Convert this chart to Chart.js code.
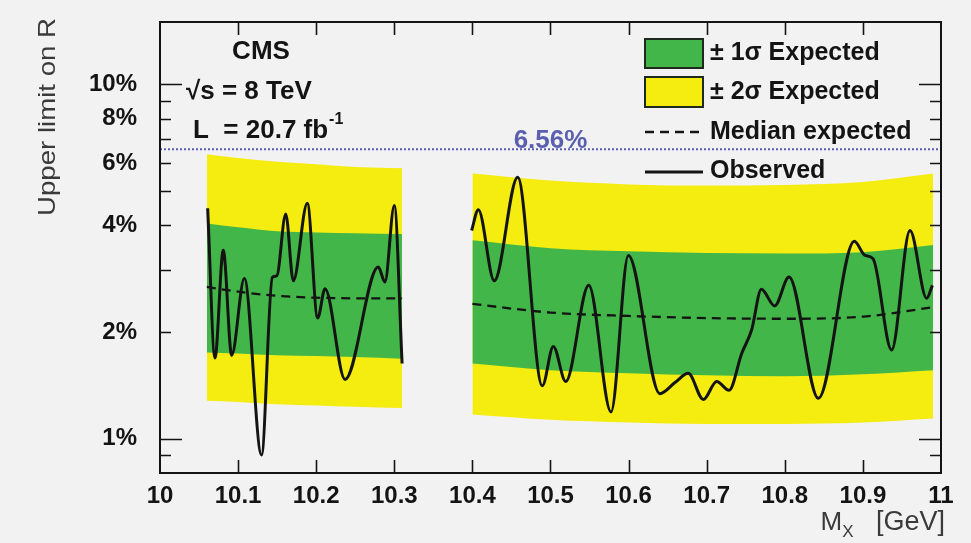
<!DOCTYPE html>
<html>
<head>
<meta charset="utf-8">
<script src="https://cdn.jsdelivr.net/npm/chart.js@4/dist/chart.umd.min.js"></script>
<style>
  html, body { margin: 0; padding: 0; background: #f2f2f2; }
  #wrap { width: 971px; height: 543px; }
</style>
</head>
<body>
<div id="wrap"><canvas id="c" width="971" height="543"></canvas></div>
<script>
// Expected-limit bands (values in %), low-mass window
const bandLeftX     = [10.06, 10.10, 10.15, 10.20, 10.25, 10.31];
const yellowHiLeft  = [6.35, 6.20, 6.05, 5.95, 5.85, 5.80];
const yellowLoLeft  = [1.28, 1.27, 1.25, 1.24, 1.23, 1.22];
const greenHiLeft   = [4.05, 3.95, 3.85, 3.82, 3.80, 3.78];
const greenLoLeft   = [1.75, 1.74, 1.72, 1.71, 1.70, 1.68];
const medianLeft    = [2.68, 2.60, 2.53, 2.50, 2.49, 2.49];

// Expected-limit bands (values in %), high-mass window
const bandRightX    = [10.40, 10.50, 10.60, 10.70, 10.80, 10.90, 10.99];
const yellowHiRight = [5.60, 5.35, 5.22, 5.18, 5.20, 5.30, 5.60];
const yellowLoRight = [1.17, 1.13, 1.11, 1.10, 1.10, 1.11, 1.14];
const greenHiRight  = [3.63, 3.45, 3.38, 3.34, 3.33, 3.36, 3.52];
const greenLoRight  = [1.63, 1.56, 1.53, 1.51, 1.50, 1.52, 1.56];
const medianRight   = [2.40, 2.27, 2.22, 2.19, 2.18, 2.21, 2.35];

// Observed upper limit (%)
const observedLeftX = [10.061, 10.0704, 10.081, 10.0918, 10.108, 10.130, 10.1438, 10.1495,
                       10.161, 10.1707, 10.1886, 10.2019, 10.2113, 10.2369, 10.2795, 10.288, 10.300, 10.310];
const observedLeftY = [4.47, 1.69, 3.40, 1.72, 2.83, 0.90, 2.85, 2.88,
                       4.31, 2.79, 4.62, 2.19, 2.65, 1.47, 3.05, 2.77, 4.55, 1.63];
const observedRightX = [10.399, 10.4076, 10.428, 10.458, 10.4895, 10.5036, 10.5195, 10.549, 10.5775,
                        10.5997, 10.640, 10.6594, 10.6764, 10.6957, 10.7128, 10.7286, 10.7448, 10.7576,
                        10.770, 10.787, 10.8054, 10.843, 10.889, 10.9027, 10.913, 10.9368, 10.9603,
                        10.9817, 10.989];
const observedRightY = [3.87, 4.43, 2.79, 5.47, 1.41, 1.82, 1.45, 2.71, 1.19,
                        3.29, 1.34, 1.44, 1.53, 1.29, 1.45, 1.37, 1.74, 2.03,
                        2.64, 2.37, 2.86, 1.30, 3.61, 3.29, 3.22, 1.78, 3.87,
                        2.49, 2.71];

// Combined limit line
const limitValue = 6.56;

// Axes
const xRange = [10, 11];
const yRange = [0.8, 15];
const xTickStep = 0.1;
const yTickValues = [1, 2, 4, 6, 8, 10];
const yMinorTicks = [0.9, 1, 2, 3, 4, 5, 6, 7, 8, 9, 10];

const FONT = "'Liberation Sans', Arial, Helvetica, sans-serif";
const GREEN = '#43b649';
const YELLOW = '#f5ec10';
const INK = '#141414';
const LIMIT_BLUE = '#5b5fb0';

const pts = (xs, ys) => xs.map((x, i) => ({ x, y: ys[i] }));

function band(xs, ys, color, fill, order) {
  return {
    data: pts(xs, ys), fill, order,
    backgroundColor: color, borderColor: 'transparent', borderWidth: 0,
    pointRadius: 0, tension: 0.4, cubicInterpolationMode: 'monotone'
  };
}
function curve(xs, ys, opts) {
  return Object.assign({
    data: pts(xs, ys), fill: false, pointRadius: 0,
    borderColor: INK, tension: 0.4, cubicInterpolationMode: 'monotone'
  }, opts);
}

const datasets = [
  band(bandLeftX,  yellowHiLeft,  YELLOW, '+1', 6),
  band(bandLeftX,  yellowLoLeft,  YELLOW, false, 6),
  band(bandRightX, yellowHiRight, YELLOW, '+1', 6),
  band(bandRightX, yellowLoRight, YELLOW, false, 6),
  band(bandLeftX,  greenHiLeft,   GREEN,  '+1', 5),
  band(bandLeftX,  greenLoLeft,   GREEN,  false, 5),
  band(bandRightX, greenHiRight,  GREEN,  '+1', 5),
  band(bandRightX, greenLoRight,  GREEN,  false, 5),
  curve(xRange, [limitValue, limitValue], { borderColor: LIMIT_BLUE, borderWidth: 2, borderDash: [2, 2], tension: 0, order: 4 }),
  curve(bandLeftX,  medianLeft,  { borderWidth: 2.3, borderDash: [9, 6], order: 3 }),
  curve(bandRightX, medianRight, { borderWidth: 2.3, borderDash: [9, 6], order: 3 }),
  curve(observedLeftX,  observedLeftY,  { borderWidth: 3, order: 1 }),
  curve(observedRightX, observedRightY, { borderWidth: 3, order: 1 })
];

// Page background
const backdrop = {
  id: 'backdrop',
  beforeDraw(chart) {
    const ctx = chart.ctx;
    ctx.save();
    ctx.fillStyle = '#f2f2f2';
    ctx.fillRect(0, 0, chart.width, chart.height);
    ctx.restore();
  }
};

// Frame, inward ticks, annotations and legend
const decorations = {
  id: 'decorations',
  afterDatasetsDraw(chart) {
    const { ctx, chartArea: a, scales: { x, y } } = chart;
    ctx.save();

    // frame
    ctx.strokeStyle = INK;
    ctx.lineWidth = 2;
    ctx.strokeRect(a.left, a.top, a.right - a.left, a.bottom - a.top);

    // x ticks (bottom and top, pointing inward)
    ctx.lineWidth = 1.6;
    ctx.beginPath();
    for (let v = xRange[0] + xTickStep; v < xRange[1] - 1e-9; v += xTickStep) {
      const px = Math.round(x.getPixelForValue(v)) + 0.5;
      ctx.moveTo(px, a.bottom); ctx.lineTo(px, a.bottom - 13);
      ctx.moveTo(px, a.top);    ctx.lineTo(px, a.top + 13);
    }
    // y ticks (left and right, pointing inward)
    yMinorTicks.forEach(v => {
      const py = Math.round(y.getPixelForValue(v)) + 0.5;
      const len = (v === 1 || v === 10) ? 22 : 11;
      ctx.moveTo(a.left, py);  ctx.lineTo(a.left + len, py);
      ctx.moveTo(a.right, py); ctx.lineTo(a.right - len, py);
    });
    ctx.stroke();

    // limit label
    ctx.fillStyle = LIMIT_BLUE;
    ctx.font = `bold 26px ${FONT}`;
    ctx.textAlign = 'center';
    ctx.textBaseline = 'alphabetic';
    ctx.fillText(limitValue.toFixed(2) + '%', x.getPixelForValue(10.5), y.getPixelForValue(limitValue) - 1);

    // experiment labels
    ctx.fillStyle = INK;
    ctx.textBaseline = 'middle';
    ctx.textAlign = 'center';
    ctx.fillText('CMS', 261, 52);
    ctx.textAlign = 'left';
    ctx.fillText('\u221As = 8 TeV', 186, 92);
    ctx.fillText('L  = 20.7 fb', 193, 131);
    const lw = ctx.measureText('L  = 20.7 fb').width;
    ctx.font = `bold 16px ${FONT}`;
    ctx.fillText('-1', 193 + lw + 1, 120);

    // legend
    const lx0 = 645, lx1 = 703;
    ctx.lineWidth = 2;
    ctx.strokeStyle = '#1e2a1e';
    ctx.fillStyle = GREEN;
    ctx.fillRect(lx0, 39, lx1 - lx0, 29);
    ctx.strokeRect(lx0, 39, lx1 - lx0, 29);
    ctx.fillStyle = YELLOW;
    ctx.fillRect(lx0, 77, lx1 - lx0, 30);
    ctx.strokeRect(lx0, 77, lx1 - lx0, 30);
    ctx.strokeStyle = INK;
    ctx.lineWidth = 2.3;
    ctx.setLineDash([9, 6]);
    ctx.beginPath(); ctx.moveTo(lx0, 132); ctx.lineTo(lx1, 132); ctx.stroke();
    ctx.setLineDash([]);
    ctx.lineWidth = 3;
    ctx.beginPath(); ctx.moveTo(lx0, 172); ctx.lineTo(lx1, 172); ctx.stroke();

    ctx.fillStyle = INK;
    ctx.font = `bold 25px ${FONT}`;
    ctx.textAlign = 'left';
    ctx.fillText('\u00B1 1\u03C3 Expected', 710, 53);
    ctx.fillText('\u00B1 2\u03C3 Expected', 710, 92);
    ctx.fillText('Median expected', 710, 132);
    ctx.fillText('Observed', 710, 171);

    // axis titles
    ctx.fillStyle = '#3a3a3a';
    ctx.font = `24px ${FONT}`;
    ctx.save();
    ctx.translate(48, 117);
    ctx.rotate(-Math.PI / 2);
    ctx.scale(1.15, 1);
    ctx.textAlign = 'center';
    ctx.fillText('Upper limit on R', 0, 0);
    ctx.restore();

    ctx.textAlign = 'right';
    ctx.font = `27px ${FONT}`;
    const unit = '   [GeV]';
    const uw = ctx.measureText(unit).width;
    ctx.fillText(unit, 945, 523);
    ctx.font = `17px ${FONT}`;
    const sw = ctx.measureText('X').width;
    ctx.fillText('X', 945 - uw, 532);
    ctx.font = `26px ${FONT}`;
    ctx.fillText('M', 945 - uw - sw, 523);

    ctx.restore();
  }
};

new Chart(document.getElementById('c'), {
  type: 'line',
  data: { datasets },
  options: {
    responsive: false,
    animation: false,
    devicePixelRatio: 1,
    layout: { padding: { top: 22, right: 30, left: 0, bottom: 0 } },
    plugins: { legend: { display: false }, tooltip: { enabled: false } },
    scales: {
      x: {
        type: 'linear', min: xRange[0], max: xRange[1],
        grid: { display: false, drawTicks: false },
        border: { display: false },
        ticks: {
          stepSize: xTickStep, autoSkip: false, maxRotation: 0, minRotation: 0, padding: 9,
          color: INK, font: { family: FONT, size: 24, weight: 'bold' },
          callback: v => String(Math.round(v * 10) / 10)
        },
        afterFit: s => { s.height = 70; s.paddingLeft = 0; s.paddingRight = 0; }
      },
      y: {
        type: 'logarithmic', min: yRange[0], max: yRange[1],
        grid: { display: false, drawTicks: false },
        border: { display: false },
        afterBuildTicks: s => { s.ticks = yTickValues.map(v => ({ value: v })); },
        ticks: {
          autoSkip: false, padding: 23,
          color: INK, font: { family: FONT, size: 24, weight: 'bold' },
          callback: v => v + '%'
        },
        afterFit: s => { s.width = 160; s.paddingTop = 0; s.paddingBottom = 0; }
      }
    }
  },
  plugins: [backdrop, decorations]
});
</script>
</body>
</html>
